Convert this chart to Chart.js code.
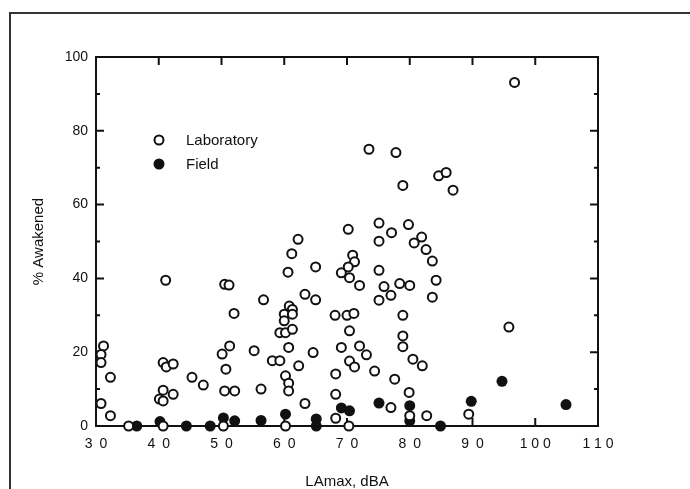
<!DOCTYPE html>
<html>
<head>
<meta charset="utf-8">
<script src="https://cdn.jsdelivr.net/npm/chart.js@4.4.1/dist/chart.umd.min.js"></script>
<style>
  html, body { margin: 0; padding: 0; background: #fff; }
  #wrap { width: 690px; height: 489px; }
</style>
</head>
<body>
<div id="wrap"><canvas id="myChart" width="690" height="489"></canvas></div>
<script>
// Laboratory (open circles)
var labX = [41.1, 50.5, 51.2, 56.7, 52.0, 31.2, 30.8, 30.8, 32.3, 30.8, 32.3, 35.2,
  40.7, 41.2, 42.3, 45.3, 47.1, 40.7, 42.3, 40.1, 40.7, 40.7, 50.3, 50.1, 51.3, 50.7,
  50.5, 52.1, 55.2, 56.3, 58.1, 59.3,
  70.2, 62.2, 75.1, 77.1, 80.7, 81.9, 82.6, 83.6, 84.2, 83.6, 61.2, 60.6, 65.0, 70.9,
  71.2, 69.1, 70.2, 70.4, 72.0, 75.1, 75.9, 77.0, 75.1, 78.4, 80.0, 63.3, 65.0, 60.8,
  61.3, 60.0, 61.3, 60.0, 59.3, 60.2, 61.3, 68.1, 70.0, 71.1, 70.4, 78.9, 78.9, 78.9,
  60.7, 64.6, 69.1, 72.0, 73.1, 62.3, 70.4, 71.2, 80.5, 82.0, 74.4, 60.2, 60.7, 60.7,
  68.2, 68.2, 77.6, 79.9, 63.3, 77.0, 68.2, 82.7, 80.0, 60.2, 70.3, 89.4,
  73.5, 77.8, 78.9, 84.6, 85.8, 86.9, 75.1, 79.8, 96.7, 95.8];
var labY = [39.5, 38.4, 38.2, 34.2, 30.5, 21.7, 19.4, 17.2, 13.2, 6.1, 2.8, 0,
  17.2, 16.0, 16.8, 13.2, 11.1, 9.7, 8.6, 7.3, 6.8, 0, 0, 19.5, 21.7, 15.4,
  9.5, 9.5, 20.4, 10.0, 17.7, 17.7,
  53.3, 50.6, 50.1, 52.4, 49.6, 51.2, 47.8, 44.7, 39.5, 34.9, 46.7, 41.7, 43.1, 46.3,
  44.5, 41.5, 43.1, 40.2, 38.1, 42.2, 37.8, 35.4, 34.1, 38.6, 38.1, 35.7, 34.2, 32.5,
  31.6, 30.3, 30.3, 28.5, 25.3, 25.3, 26.2, 30.0, 30.0, 30.5, 25.8, 30.0, 24.4, 21.5,
  21.3, 19.9, 21.3, 21.7, 19.3, 16.3, 17.6, 16.0, 18.1, 16.3, 14.9, 13.6, 11.6, 9.5,
  14.1, 8.6, 12.7, 9.1, 6.1, 5.0, 2.1, 2.8, 2.8, 0, 0, 3.2,
  75.0, 74.1, 65.2, 67.8, 68.7, 63.9, 55.0, 54.6, 93.1, 26.8];

// Field (filled circles)
var fieldX = [36.5, 40.2, 44.4, 48.2, 50.3, 52.1, 56.3, 60.2, 65.1, 65.1, 69.1, 70.4,
  75.1, 80.0, 80.0, 84.9, 89.8, 94.7, 104.9];
var fieldY = [0, 1.2, 0, 0, 2.2, 1.4, 1.5, 3.2, 1.9, 0, 4.9, 4.1,
  6.2, 5.5, 1.4, 0, 6.7, 12.1, 5.8];

var xTicks = [30, 40, 50, 60, 70, 80, 90, 100, 110];
var yTicks = [0, 20, 40, 60, 80, 100];
var yMinor = [10, 30, 50, 70, 90];

function toPoints(xs, ys) {
  var pts = [];
  for (var i = 0; i < xs.length; i++) {
    pts.push({x: xs[i], y: ys[i]});
  }
  return pts;
}

var ink = '#111';

// page frame, plot box and inward ticks
var boxPlugin = {
  id: 'boxTicks',
  beforeDatasetsDraw: function(chart) {
    var ctx = chart.ctx;
    var a = chart.chartArea;
    var xs = chart.scales.x, ys = chart.scales.y;
    ctx.save();
    ctx.strokeStyle = '#333';
    ctx.lineWidth = 2;
    ctx.beginPath();
    ctx.moveTo(10, 489);
    ctx.lineTo(10, 13);
    ctx.lineTo(690, 13);
    ctx.stroke();

    ctx.strokeStyle = ink;
    ctx.lineWidth = 2;
    ctx.strokeRect(a.left, a.top, a.right - a.left, a.bottom - a.top);
    ctx.beginPath();
    xTicks.forEach(function(v) {
      var px = xs.getPixelForValue(v);
      ctx.moveTo(px, a.bottom); ctx.lineTo(px, a.bottom - 8);
      ctx.moveTo(px, a.top); ctx.lineTo(px, a.top + 8);
    });
    yTicks.forEach(function(v) {
      var py = ys.getPixelForValue(v);
      ctx.moveTo(a.left, py); ctx.lineTo(a.left + 8, py);
      ctx.moveTo(a.right, py); ctx.lineTo(a.right - 8, py);
    });
    yMinor.forEach(function(v) {
      var py = ys.getPixelForValue(v);
      ctx.moveTo(a.left, py); ctx.lineTo(a.left + 4, py);
      ctx.moveTo(a.right, py); ctx.lineTo(a.right - 4, py);
    });
    ctx.stroke();
    ctx.restore();
  },
  afterDraw: function(chart) {
    // legend
    var ctx = chart.ctx;
    ctx.save();
    ctx.lineWidth = 2;
    ctx.strokeStyle = ink;
    ctx.fillStyle = '#fff';
    ctx.beginPath(); ctx.arc(159, 140, 4.5, 0, Math.PI * 2); ctx.fill(); ctx.stroke();
    ctx.fillStyle = ink;
    ctx.beginPath(); ctx.arc(159, 164, 5.5, 0, Math.PI * 2); ctx.fill();
    ctx.font = '15px "Liberation Sans", Arial, sans-serif';
    ctx.textBaseline = 'middle';
    ctx.fillText('Laboratory', 186, 141);
    ctx.fillText('Field', 186, 165);
    ctx.restore();
  }
};

new Chart("myChart", {
  type: "scatter",
  data: {
    datasets: [{
      label: "Laboratory",
      data: toPoints(labX, labY),
      pointRadius: 4.5,
      pointBorderWidth: 2,
      pointBorderColor: ink,
      pointBackgroundColor: '#fff',
      clip: false
    }, {
      label: "Field",
      data: toPoints(fieldX, fieldY),
      pointRadius: 5.5,
      pointBorderWidth: 0,
      pointBorderColor: ink,
      pointBackgroundColor: ink,
      clip: false
    }]
  },
  options: {
    responsive: false,
    animation: false,
    events: [],
    layout: { padding: { top: 57, right: 92, left: 0, bottom: 0 } },
    plugins: {
      legend: { display: false },
      tooltip: { enabled: false }
    },
    scales: {
      x: {
        type: 'linear',
        min: 30, max: 110,
        afterFit: function(s) { s.height = 63; },
        afterBuildTicks: function(s) { s.ticks = xTicks.map(function(v) { return {value: v}; }); },
        grid: { display: false, drawTicks: false },
        border: { display: false },
        ticks: {
          padding: 10,
          color: ink,
          font: { family: '"Liberation Sans", Arial, sans-serif', size: 14 },
          callback: function(v) {
            var s = String(v);
            return s.split('').join(s.length > 2 ? ' ' : '\u2002');
          }
        },
        title: {
          display: true,
          text: 'LAmax, dBA',
          color: ink,
          padding: { top: 0, bottom: 0 },
          font: { family: '"Liberation Sans", Arial, sans-serif', size: 15, lineHeight: 1 }
        }
      },
      y: {
        min: 0, max: 100,
        afterFit: function(s) { s.width = 96; },
        afterBuildTicks: function(s) { s.ticks = yTicks.map(function(v) { return {value: v}; }); },
        grid: { display: false, drawTicks: false },
        border: { display: false },
        ticks: {
          padding: 8,
          color: ink,
          font: { family: '"Liberation Sans", Arial, sans-serif', size: 14 }
        },
        title: {
          display: true,
          text: '% Awakened',
          color: ink,
          padding: { top: 30, bottom: 0 },
          font: { family: '"Liberation Sans", Arial, sans-serif', size: 15 }
        }
      }
    }
  },
  plugins: [boxPlugin]
});
</script>
</body>
</html>
